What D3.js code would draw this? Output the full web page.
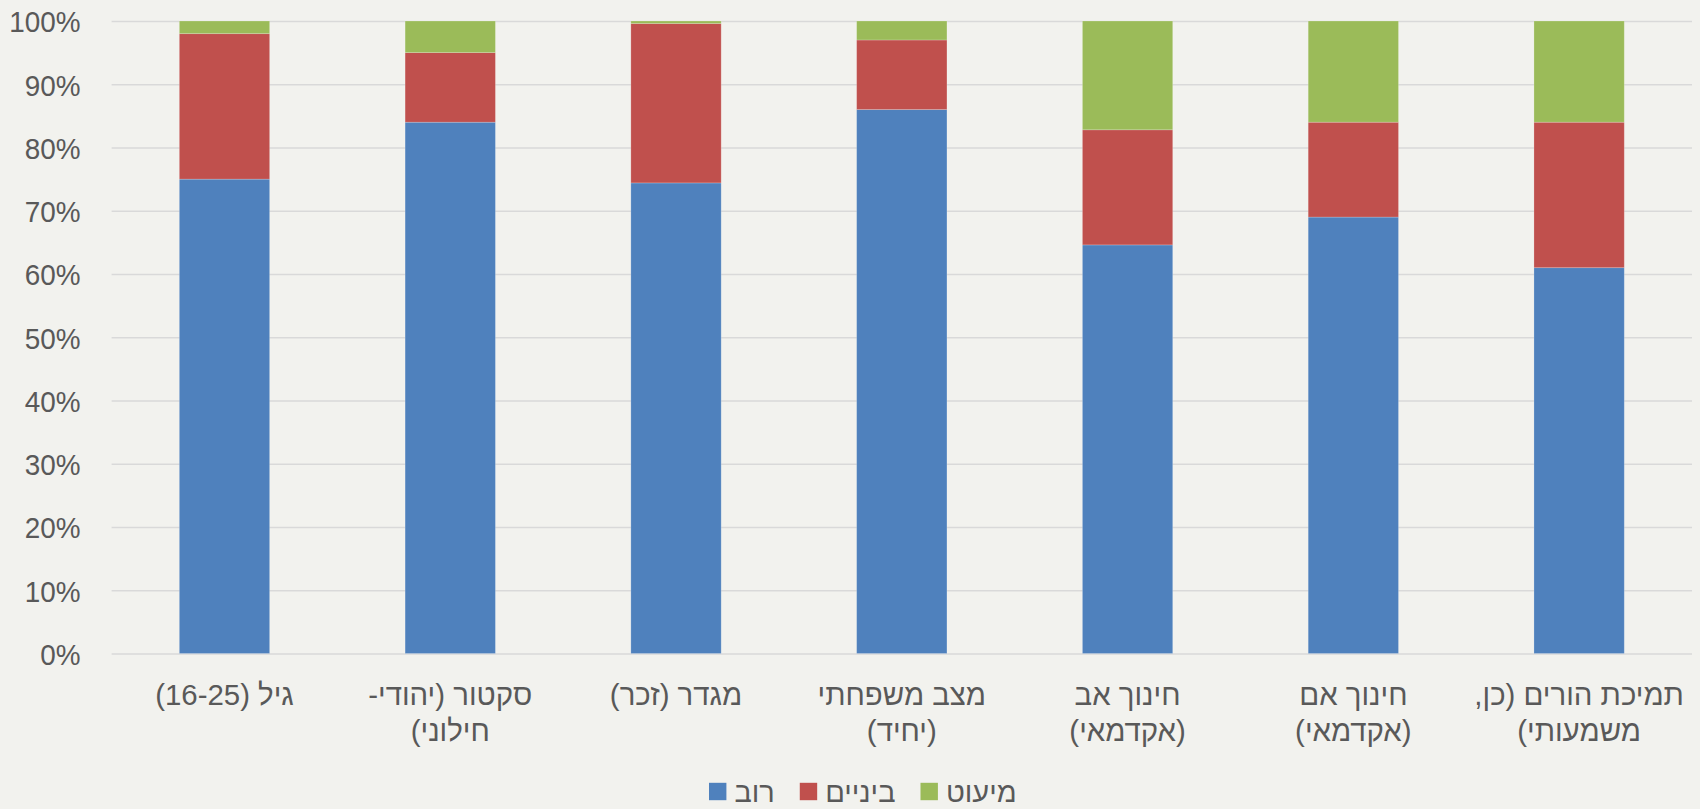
<!DOCTYPE html>
<html>
<head>
<meta charset="utf-8">
<script src="https://cdn.jsdelivr.net/npm/d3@7"></script>
<style>
  body { margin: 0; background: #f2f2ee; }
  text { font-family: "Liberation Sans", Arial, sans-serif; fill: #595959; }
</style>
</head>
<body>
<div id="chart"></div>
<script>
// categories (each label split in lines, as in the picture)
const categories = [
  ["גיל (16-25)"],
  ["סקטור (יהודי-", "חילוני)"],
  ["מגדר (זכר)"],
  ["מצב משפחתי", "(יחיד)"],
  ["חינוך אב", "(אקדמאי)"],
  ["חינוך אם", "(אקדמאי)"],
  ["תמיכת הורים (כן,", "משמעותי)"]
];
// series values in percent
const rov     = [75, 84, 74.4, 86, 64.6, 69, 61];
const beynaim = [23, 11, 25.2, 11, 18.2, 15, 23];
const miut    = [2, 5, 0.4, 3, 17.2, 16, 16];

const seriesNames = ["רוב", "ביניים", "מיעוט"];
const seriesColors = ["#4f81bd", "#c0504d", "#9bbb59"];
const yTicks = [0, 10, 20, 30, 40, 50, 60, 70, 80, 90, 100];

const width = 1700;
const height = 809;
const margin = { top: 21, right: 8, bottom: 155.5, left: 111.6 };

const svg = d3.select("#chart")
  .append("svg")
  .attr("width", width)
  .attr("height", height);

// build rows for the stack
const rows = categories.map((c, i) => ({
  key: i,
  "רוב": rov[i],
  "ביניים": beynaim[i],
  "מיעוט": miut[i]
}));

const stack = d3.stack().keys(seriesNames);
const stacked = stack(rows);

const x = d3.scaleBand()
  .domain(categories.map((c, i) => i))
  .range([margin.left, width - margin.right])
  .paddingInner(0.6)
  .paddingOuter(0.3);

const y = d3.scaleLinear()
  .domain([0, 100])
  .range([height - margin.bottom, margin.top]);

// y gridlines + labels
const yAxis = d3.axisLeft(y)
  .tickValues(yTicks)
  .tickSize(-(width - margin.right - margin.left))
  .tickFormat(d => d + "%");

const gy = svg.append("g")
  .attr("transform", `translate(${margin.left},0)`)
  .call(yAxis);
gy.select(".domain").remove();
gy.selectAll(".tick line")
  .attr("stroke", "#d9d9d9")
  .attr("stroke-width", 1.6);
// text in the picture is a bit taller than wide, so squeeze it a little
gy.selectAll(".tick text")
  .attr("x", 0)
  .attr("dy", "0.36em")
  .attr("transform", "translate(-31,0) scale(0.93,1)")
  .style("font-size", "30px")
  .attr("fill", "#595959");

// bars
svg.append("g")
  .selectAll("g")
  .data(stacked)
  .join("g")
  .attr("fill", (d, i) => seriesColors[i])
  .selectAll("rect")
  .data(d => d)
  .join("rect")
  .attr("x", d => x(d.data.key))
  .attr("width", x.bandwidth())
  .attr("y", d => y(d[1]))
  .attr("height", d => y(d[0]) - y(d[1]))
  .attr("stroke", "rgba(255,255,255,0.25)")
  .attr("stroke-width", 0.8);

// category labels
const xAxis = d3.axisBottom(x).tickSize(0).tickFormat("");
const gx = svg.append("g")
  .attr("transform", `translate(0,${height - margin.bottom})`)
  .call(xAxis);
gx.select(".domain").remove();
gx.selectAll(".tick")
  .append("text")
  .attr("direction", "rtl")
  .attr("text-anchor", "middle")
  .attr("transform", "scale(0.98,1)")
  .style("font-size", "30px")
  .attr("fill", "#595959")
  .selectAll("tspan")
  .data(d => categories[d])
  .join("tspan")
  .attr("x", 0)
  .attr("y", (d, i) => 51.5 + i * 35.7)
  .text(d => d);

// legend (visual order left to right: רוב, ביניים, מיעוט)
const legend = svg.append("g");
const legendY = 791.5;
let lx = 709;
seriesNames.forEach((name, i) => {
  const item = legend.append("g");
  item.append("rect")
    .attr("x", lx)
    .attr("y", legendY - 8.7)
    .attr("width", 17.4)
    .attr("height", 17.4)
    .attr("fill", seriesColors[i]);
  const t = item.append("text")
    .attr("x", lx + 17.4 + 8)
    .attr("y", legendY)
    .attr("dy", "0.35em")
    .attr("text-anchor", "start")
    .style("font-size", "29px")
    .text(name);
  const w = t.node().getComputedTextLength();
  lx = lx + 17.4 + 8 + w + 25;
});
</script>
</body>
</html>
